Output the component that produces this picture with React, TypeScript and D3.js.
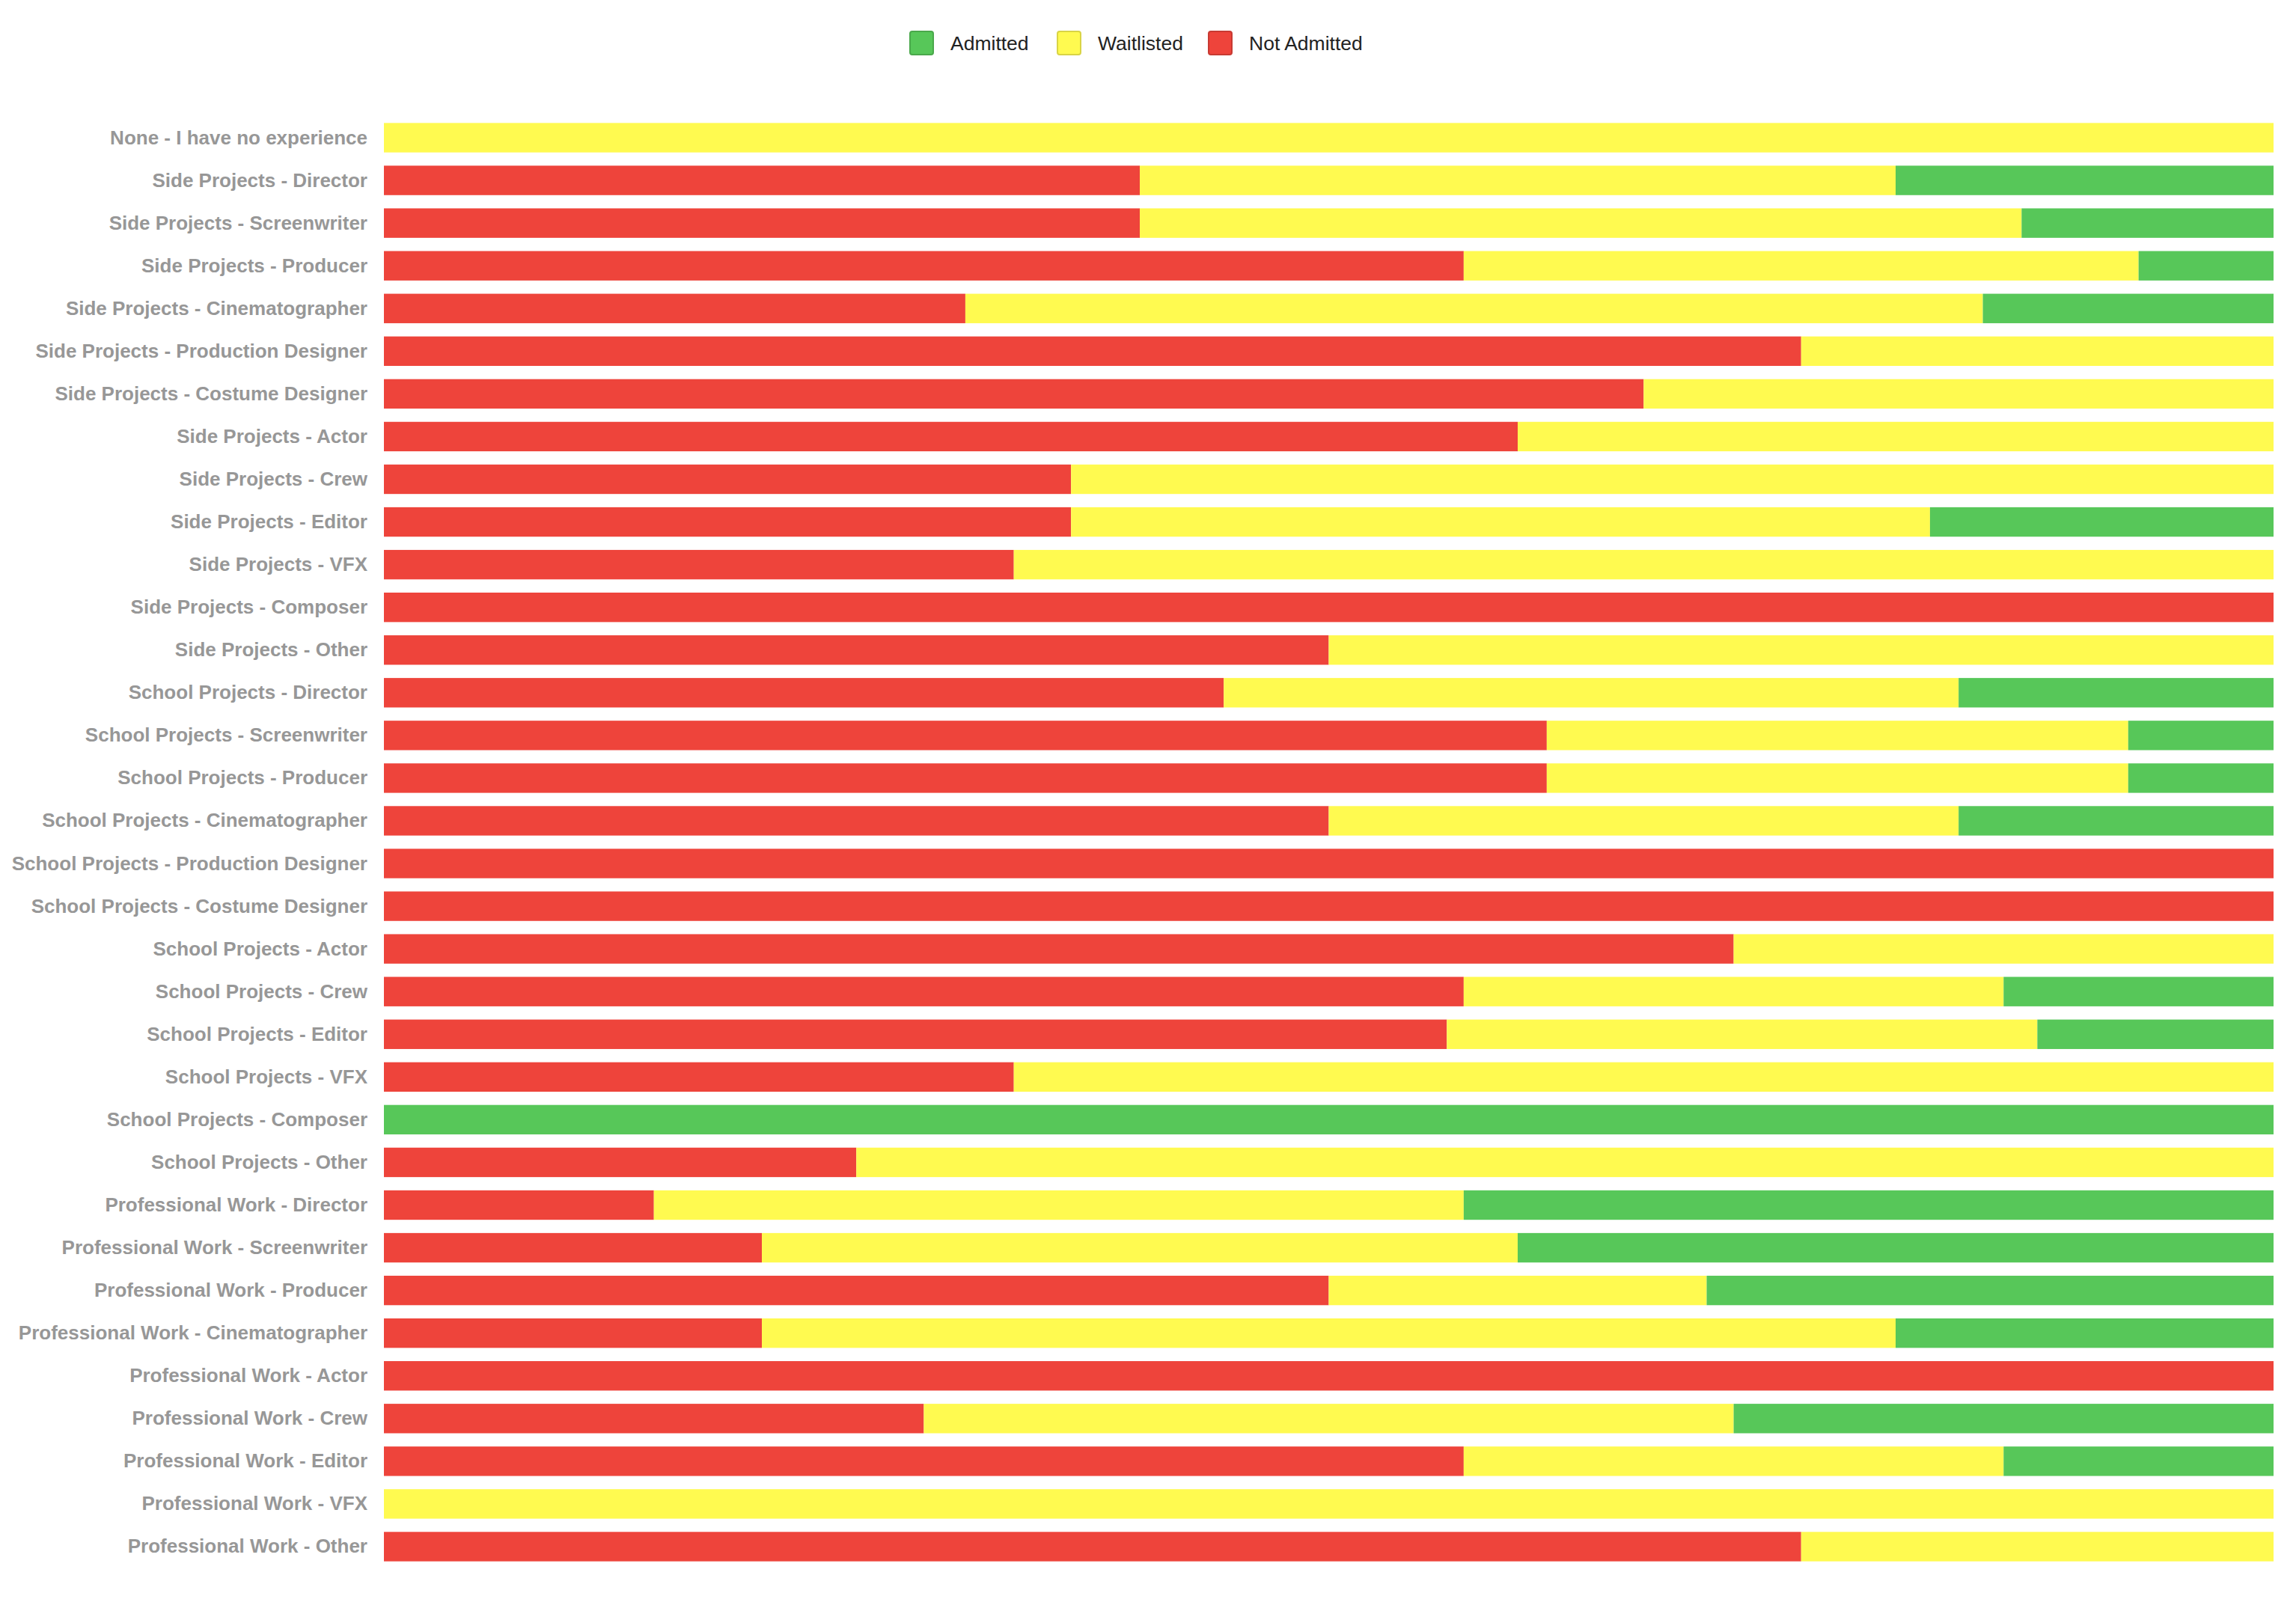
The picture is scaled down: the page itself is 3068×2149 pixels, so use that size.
import * as d3 from 'd3';

const width = 3068;
const height = 2149;
const margin = { top: 155.5, left: 513, bottom: 53.5, right: 30 };

const categories = [
  'None - I have no experience',
  'Side Projects - Director',
  'Side Projects - Screenwriter',
  'Side Projects - Producer',
  'Side Projects - Cinematographer',
  'Side Projects - Production Designer',
  'Side Projects - Costume Designer',
  'Side Projects - Actor',
  'Side Projects - Crew',
  'Side Projects - Editor',
  'Side Projects - VFX',
  'Side Projects - Composer',
  'Side Projects - Other',
  'School Projects - Director',
  'School Projects - Screenwriter',
  'School Projects - Producer',
  'School Projects - Cinematographer',
  'School Projects - Production Designer',
  'School Projects - Costume Designer',
  'School Projects - Actor',
  'School Projects - Crew',
  'School Projects - Editor',
  'School Projects - VFX',
  'School Projects - Composer',
  'School Projects - Other',
  'Professional Work - Director',
  'Professional Work - Screenwriter',
  'Professional Work - Producer',
  'Professional Work - Cinematographer',
  'Professional Work - Actor',
  'Professional Work - Crew',
  'Professional Work - Editor',
  'Professional Work - VFX',
  'Professional Work - Other',
];

// counts per category
const notAdmitted = [0, 2, 6, 8, 4, 3, 2, 3, 4, 4, 1, 1, 1, 8, 8, 8, 3, 1, 1, 5, 4, 9, 1, 0, 1, 1, 1, 5, 1, 1, 2, 4, 0, 3];
const waitlisted = [1, 2, 7, 5, 7, 1, 1, 2, 7, 5, 2, 0, 1, 7, 4, 4, 2, 0, 0, 2, 2, 5, 2, 0, 3, 3, 2, 2, 3, 0, 3, 2, 1, 1];
const admitted = [0, 1, 2, 1, 2, 0, 0, 0, 0, 2, 0, 0, 0, 3, 1, 1, 1, 0, 0, 0, 1, 2, 0, 1, 0, 3, 2, 3, 1, 0, 2, 1, 0, 0];

const seriesKeys = ['notAdmitted', 'waitlisted', 'admitted'] as const;
const seriesNames: Record<string, string> = {
  admitted: 'Admitted',
  waitlisted: 'Waitlisted',
  notAdmitted: 'Not Admitted',
};
const colors: Record<string, string> = {
  admitted: '#57c759',
  waitlisted: '#fffa50',
  notAdmitted: '#ee443b',
};
const borders: Record<string, string> = {
  admitted: '#4aa84b',
  waitlisted: '#d9d445',
  notAdmitted: '#c83a32',
};
const legendOrder = ['admitted', 'waitlisted', 'notAdmitted'];

const rows = categories.map((name, i) => ({
  name,
  notAdmitted: notAdmitted[i],
  waitlisted: waitlisted[i],
  admitted: admitted[i],
}));

function App() {
  const stacked = d3
    .stack<(typeof rows)[number]>()
    .keys(seriesKeys as unknown as string[])
    .offset(d3.stackOffsetExpand)(rows as any);

  const xScale = d3
    .scaleLinear()
    .domain([0, 1])
    .range([margin.left, 3038]);

  const yScale = d3
    .scaleBand()
    .domain(categories)
    .range([margin.top, height - margin.bottom])
    .paddingInner(0.31)
    .paddingOuter(0.155);

  // legend layout
  const legendX = [1216, 1413, 1615];

  return (
    <div style={{ position: 'absolute', left: 0, top: 0 }}>
      <svg width={width} height={height} style={{ display: 'block', background: '#fff' }}>
        <g>
          {legendOrder.map((key, i) => (
            <g key={key} transform={`translate(${legendX[i]}, 42)`}>
              <rect
                width={31}
                height={31}
                rx={3}
                fill={colors[key]}
                stroke={borders[key]}
                strokeWidth={2}
              />
              <text
                x={54}
                y={16}
                dominantBaseline="central"
                fontFamily="'Liberation Sans', Arial, sans-serif"
                fontSize={26.5}
                fill="#222"
              >
                {seriesNames[key]}
              </text>
            </g>
          ))}
        </g>

        <g>
          {categories.map((c) => (
            <text
              key={c}
              x={491}
              y={(yScale(c) || 0) + yScale.bandwidth() / 2 - 0.5}
              textAnchor="end"
              dominantBaseline="central"
              fontFamily="'Liberation Sans', Arial, sans-serif"
              fontWeight="bold"
              fontSize={26}
              fill="#979797"
            >
              {c}
            </text>
          ))}
        </g>

        <g>
          {stacked.map((layer) => (
            <g key={layer.key} fill={colors[layer.key]}>
              {layer.map((d, i) =>
                d[1] - d[0] > 0 ? (
                  <rect
                    key={categories[i]}
                    x={xScale(d[0])}
                    y={yScale(categories[i]) || 0}
                    width={xScale(d[1]) - xScale(d[0])}
                    height={yScale.bandwidth()}
                  />
                ) : null
              )}
            </g>
          ))}
        </g>
      </svg>
    </div>
  );
}

export default App;
